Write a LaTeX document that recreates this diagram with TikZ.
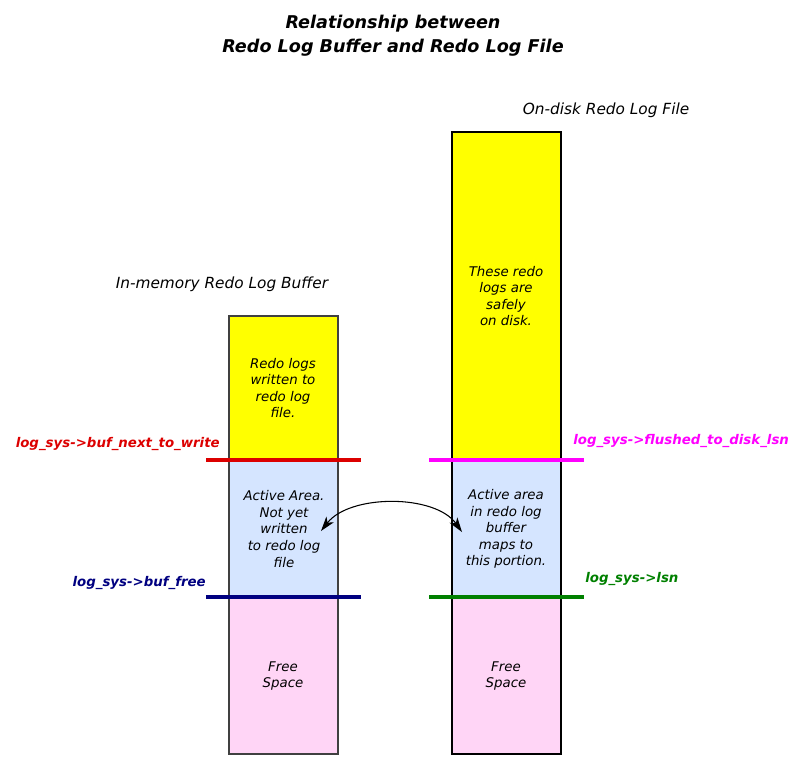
\documentclass[tikz,border=0pt]{standalone}
\usepackage{fontspec}
\setmainfont{DejaVu Sans}
\usetikzlibrary{arrows.meta}
\definecolor{memyellow}{RGB}{255,255,0}
\definecolor{actblue}{RGB}{213,229,255}
\definecolor{freepink}{RGB}{255,213,246}
\definecolor{redline}{RGB}{220,0,0}
\definecolor{navyline}{RGB}{0,0,128}
\definecolor{magline}{RGB}{255,0,255}
\definecolor{greenline}{RGB}{0,128,0}
\begin{document}
\begin{tikzpicture}[x=0.75pt,y=-0.75pt,
  boxtext/.style={font=\fontsize{10}{12.4}\selectfont\itshape,align=center,inner sep=0pt},
  headtext/.style={font=\fontsize{11.5}{14}\selectfont\itshape,inner sep=0pt},
  ptrlabel/.style={font=\fontsize{10}{12}\selectfont\bfseries\itshape,inner sep=0pt},
  ptrline/.style={line width=2.3pt},
  outline/.style={line width=1pt}]
\useasboundingbox (0,0) rectangle (805,772);
% title
\node[font=\fontsize{13.2}{18}\selectfont\bfseries\itshape,align=center,inner sep=0pt] (title) at (393,36) {Relationship between\\Redo Log Buffer and Redo Log File};
% headings
\node[headtext] (hfile) at (606,110) {On-disk Redo Log File};
\node[headtext] (hbuf) at (222,284) {In-memory Redo Log Buffer};
% left column
\fill[memyellow] (229,316) rectangle (338,460);
\fill[actblue] (229,460) rectangle (338,597);
\fill[freepink] (229,597) rectangle (338,754);
\draw[outline,draw=black!75] (229,316) rectangle (338,754);
% right column
\fill[memyellow] (452,132) rectangle (561,460);
\fill[actblue] (452,460) rectangle (561,597);
\fill[freepink] (452,597) rectangle (561,754);
\draw[outline] (452,132) rectangle (561,754);
% pointer lines
\coordinate (rl1) at (206,460); \coordinate (rl2) at (361,460);
\coordinate (bl1) at (206,597); \coordinate (bl2) at (361,597);
\coordinate (ml1) at (429,460); \coordinate (ml2) at (584,460);
\coordinate (gl1) at (429,597); \coordinate (gl2) at (584,597);
\draw[ptrline,redline] (rl1) -- (rl2);
\draw[ptrline,navyline] (bl1) -- (bl2);
\draw[ptrline,magline] (ml1) -- (ml2);
\draw[ptrline,greenline] (gl1) -- (gl2);
% labels
\node[ptrlabel,text=redline,anchor=east] (lnext) at (220,444) {log\_sys->buf\_next\_to\_write};
\node[ptrlabel,text=navyline,anchor=east] (lfree) at (206,583) {log\_sys->buf\_free};
\node[ptrlabel,text=magline,anchor=west] (lflush) at (573,441) {log\_sys->flushed\_to\_disk\_lsn};
\node[ptrlabel,text=greenline,anchor=west] (llsn) at (585,579) {log\_sys->lsn};
% box texts
\node[boxtext] (t1) at (283,388) {Redo logs\\written to\\redo log\\file.};
\node[boxtext] (t2) at (506,296) {These redo\\logs are\\safely\\on disk.};
\node[boxtext] (t3) at (284,529) {Active Area.\\Not yet\\written\\to redo log\\file};
\node[boxtext] (t4) at (506,529) {Active area\\in redo log\\buffer\\maps to\\this portion.};
\node[boxtext] (t5) at (283,676) {Free\\Space};
\node[boxtext] (t6) at (506,676) {Free\\Space};
% arrow
\coordinate (aL) at (321,531);
\coordinate (aR) at (462,532);
\draw[line width=0.8pt,{Stealth[length=11pt,width=7pt,inset=3pt]}-{Stealth[length=11pt,width=7pt,inset=3pt]}] (aL) .. controls (350,494) and (435,494) .. (aR);
\end{tikzpicture}
\end{document}
